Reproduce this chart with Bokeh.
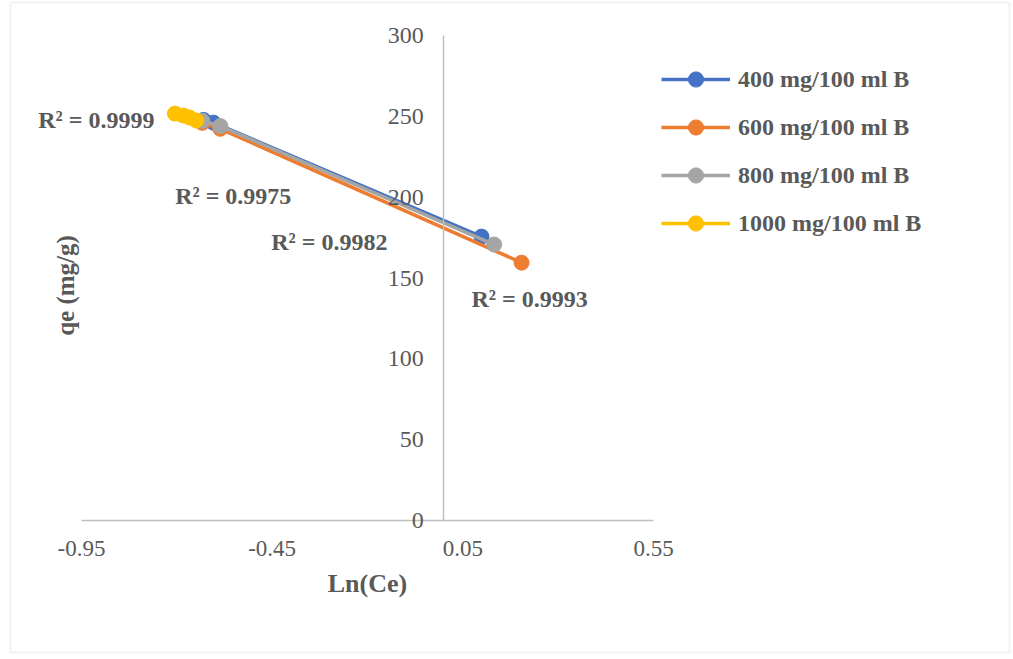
import numpy as np
from bokeh.plotting import figure
from bokeh.models import (Range1d, LinearAxis, FixedTicker, Legend, LegendItem,
                          Label, BoxAnnotation, CustomJSTickFormatter)
from bokeh.embed import file_html
from bokeh.resources import INLINE

# Ln(Ce) versus qe for four initial dose levels
series_names = ["400 mg/100 ml B", "600 mg/100 ml B", "800 mg/100 ml B", "1000 mg/100 ml B"]
series_colors = ["#4472C4", "#ED7D31", "#A5A5A5", "#FFC000"]

ln_ce_400 = [-0.630, -0.604, 0.099]
qe_400 = [247.8, 246.1, 175.6]

ln_ce_600 = [-0.633, -0.586, 0.204]
qe_600 = [246.0, 242.3, 159.5]

ln_ce_800 = [-0.633, -0.586, 0.132]
qe_800 = [247.2, 244.0, 170.7]

ln_ce_1000 = [-0.705, -0.683, -0.667, -0.649]
qe_1000 = [251.7, 250.5, 249.3, 247.4]

r2_texts = ["R² = 0.9975", "R² = 0.9993", "R² = 0.9982", "R² = 0.9999"]
r2_x = [-0.552, 0.225, -0.300, -0.911]
r2_y = [201.0, 137.3, 172.5, 248.0]

x_ticks = [-0.95, -0.45, 0.05, 0.55]
y_ticks = [0, 50, 100, 150, 200, 250, 300]

TEXT = "#595959"
AXIS = "#BFBFBF"
FONT = "Liberation Serif"

W, H = 1013, 659
# plot area of the chart in canvas pixels; the frame itself spans the canvas
PX_L, PX_R, PX_T, PX_B = 81, 653, 35, 520
X0, X1, Y0, Y1 = -0.95, 0.55, 0.0, 300.0
sx = (X1 - X0) / (PX_R - PX_L)
sy = (Y1 - Y0) / (PX_B - PX_T)
x_range = Range1d(X0 - PX_L * sx, X1 + (W - PX_R) * sx)
y_range = Range1d(Y0 - (H - PX_B) * sy, Y1 + PX_T * sy)

p = figure(width=W, height=H, output_backend="svg", toolbar_location=None,
           x_range=x_range, y_range=y_range,
           x_axis_location=None, y_axis_location=None,
           min_border=0, min_border_left=0, min_border_right=0,
           min_border_top=0, min_border_bottom=0)
p.outline_line_color = None
p.grid.visible = False
p.background_fill_color = "white"
p.border_fill_color = "white"

# horizontal axis along qe = 0
xa = LinearAxis(fixed_location=0, bounds=(X0, X1), ticker=FixedTicker(ticks=x_ticks),
                formatter=CustomJSTickFormatter(code="return tick.toFixed(2);"))
xa.axis_line_color = AXIS
xa.axis_line_width = 1.5
xa.major_tick_line_color = None
xa.minor_tick_line_color = None
xa.major_label_standoff = 14
xa.major_label_text_font = FONT
xa.major_label_text_font_size = "23px"
xa.major_label_text_color = TEXT
xa.axis_label = "Ln(Ce)"
xa.axis_label_text_font = FONT
xa.axis_label_text_font_style = "bold"
xa.axis_label_text_font_size = "26px"
xa.axis_label_text_color = TEXT
xa.axis_label_standoff = 10
p.add_layout(xa, "below")

# vertical axis crossing at Ln(Ce) = 0
ya = LinearAxis(fixed_location=0, bounds=(Y0, Y1), ticker=FixedTicker(ticks=y_ticks))
ya.axis_line_color = AXIS
ya.axis_line_width = 1.5
ya.major_tick_line_color = None
ya.minor_tick_line_color = None
ya.major_label_standoff = 14
ya.major_label_text_font = FONT
ya.major_label_text_font_size = "24px"
ya.major_label_text_color = TEXT
p.add_layout(ya, "left")

p.add_layout(Label(x=65, y=H - 285, x_units="screen", y_units="screen",
                   text="qe (mg/g)", angle=np.pi / 2, text_align="center",
                   text_baseline="middle", text_font=FONT, text_font_style="bold",
                   text_font_size="25px", text_color=TEXT))

xs = [ln_ce_400, ln_ce_600, ln_ce_800, ln_ce_1000]
ys = [qe_400, qe_600, qe_800, qe_1000]

items = []
for name, color, x, y in zip(series_names, series_colors, xs, ys):
    ln = p.line(x, y, line_color=color, line_width=3.5)
    sc = p.scatter(x, y, size=15, fill_color=color, line_color=color)
    # linear trendline over the series' range
    k, b = np.polyfit(x, y, 1)
    tx = np.array([min(x), max(x)])
    p.line(tx, k * tx + b, line_color=color, line_width=1.5, line_dash="2 2")
    items.append(LegendItem(label=name, renderers=[ln, sc]))

for t, lx, ly in zip(r2_texts, r2_x, r2_y):
    p.add_layout(Label(x=lx, y=ly, text=t, text_align="center", text_baseline="middle",
                       text_font=FONT, text_font_style="bold", text_font_size="24px",
                       text_color=TEXT))

legend = Legend(items=items, location=(661, H - 242), orientation="vertical")
legend.glyph_width = 69
legend.glyph_height = 38
legend.label_height = 38
legend.label_standoff = 8
legend.spacing = 10
legend.padding = 0
legend.margin = 0
legend.border_line_color = None
legend.background_fill_alpha = 0
legend.label_text_font = FONT
legend.label_text_font_style = "bold"
legend.label_text_font_size = "24px"
legend.label_text_color = TEXT
p.add_layout(legend, "center")

# outer chart border
p.add_layout(BoxAnnotation(left=10, right=1009, top=H - 2, bottom=H - 652,
                           left_units="screen", right_units="screen",
                           top_units="screen", bottom_units="screen",
                           fill_alpha=0, line_color="#D4D4D4", line_width=2))

open("out.html", "w").write(file_html(p, INLINE))
